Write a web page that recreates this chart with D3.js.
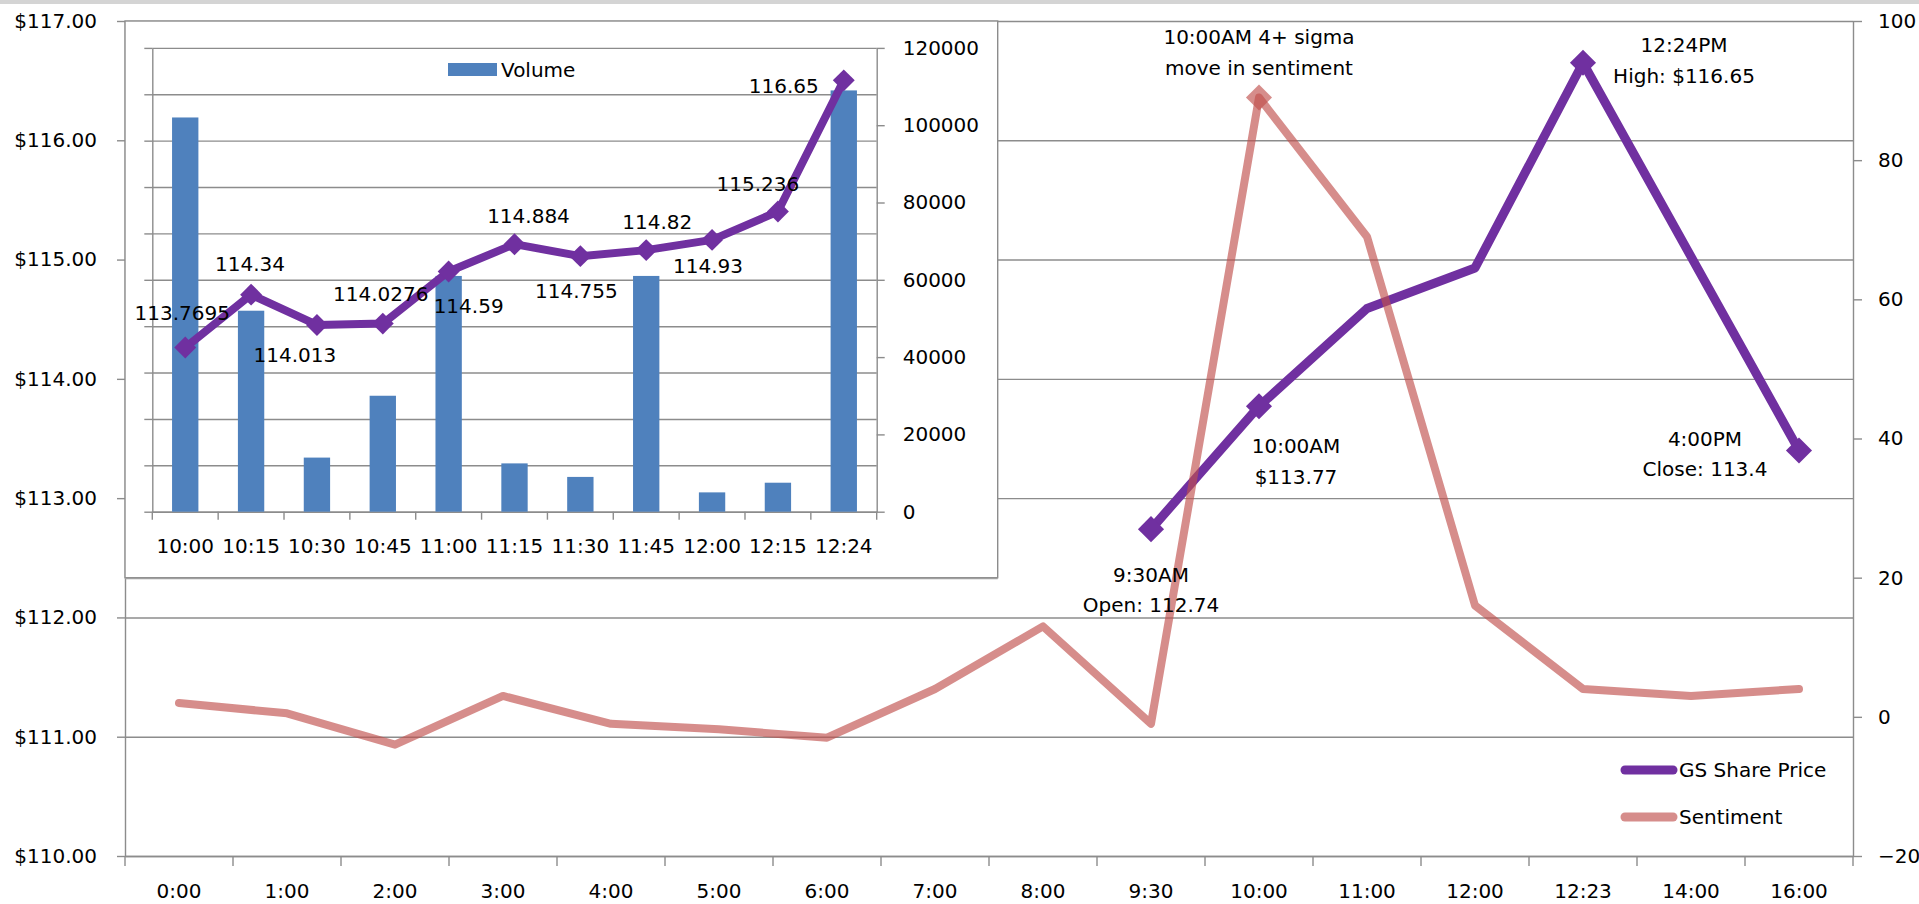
<!DOCTYPE html>
<html><head><meta charset="utf-8">
<script src="https://cdn.jsdelivr.net/npm/d3@7"></script>
<style>
html,body{margin:0;padding:0;background:#fff;overflow:hidden}
svg{display:block}
</style></head><body>
<svg id="c" width="1919" height="904"></svg>
<script>
// ---------------- data: main (daily) chart ----------------
const hours = ["0:00","1:00","2:00","3:00","4:00","5:00","6:00","7:00","8:00","9:30","10:00","11:00","12:00","12:23","14:00","16:00"];
const sharePrice = [null,null,null,null,null,null,null,null,null,112.74,113.77,114.59,114.93,116.65,null,113.4];
const sentiment = [2,0.5,-4,3,-1,-1.8,-3,4,13,-1,89,69,16,4,3,4];
const priceTicks = [110,111,112,113,114,115,116,117];
const sentimentTicks = [-20,0,20,40,60,80,100];
const seriesNames = ["GS Share Price","Sentiment"];
// annotated points: series, category, text lines
const annotSeries = ["price","sentiment","price","price","price"];
const annotCategory = ["9:30","10:00","10:00","12:23","16:00"];
const annotText = [
  ["9:30AM","Open: 112.74"],
  ["10:00AM 4+ sigma","move in sentiment"],
  ["10:00AM","$113.77"],
  ["12:24PM","High: $116.65"],
  ["4:00PM","Close: 113.4"]
];

// ---------------- data: inset (intraday) chart ----------------
const intradayTimes = ["10:00","10:15","10:30","10:45","11:00","11:15","11:30","11:45","12:00","12:15","12:24"];
const intradayPrice = [113.7695,114.34,114.013,114.0276,114.59,114.884,114.755,114.82,114.93,115.236,116.65];
const volume = [102000,52000,14000,30000,61000,12500,9000,61000,5000,7500,109000];
const volumeTicks = [0,20000,40000,60000,80000,100000,120000];
const insetPriceTicks = [112,112.5,113,113.5,114,114.5,115,115.5,116,116.5,117];
const volumeName = "Volume";

// ---------------- layout & style ----------------
const W = 1919, H = 904;
const FONT = "DejaVu Sans, Verdana, sans-serif";
const FS = 20;
const GRID = "#8c8c8c";
const PURPLE = "#7030A0", PINK = "#C0504D", BLUE = "#4F81BD";
const PINK_OP = 0.65;
const M = {left:125, right:1853, top:21, bottom:856};
const I = {boxRight:997.7, boxBottom:577.7, left:152.3, right:876.7, top:47.9, bottom:511.7};
// label offsets (pixels, relative to the point)
const annotOffset = [[0,45.5],[0,-60.5],[37,40],[101,-17.7],[-94,-11.7]];
const insetLabelOffset = [[-3,-35],[-1,-31],[-22,30],[-2,-30],[20,34],[14,-28],[-4,35],[11,-28],[-4,26],[-20,-28],[-60,5]];

const svg = d3.select("#c").attr("font-family", FONT);
svg.append("rect").attr("width", W).attr("height", H).attr("fill", "#fff");
svg.append("rect").attr("width", W).attr("height", 4).attr("fill", "#d4d4d4");

function styleAxis(g, showText = true) {
  g.attr("font-size", FS).attr("font-family", FONT);
  g.select(".domain").attr("stroke", GRID).attr("stroke-width", 1.4);
  g.selectAll(".tick line").attr("stroke", GRID).attr("stroke-width", 1.4);
  g.selectAll(".tick text").attr("fill", "#000");
  if (!showText) g.selectAll(".tick text").remove();
}

// ---------------- main scales ----------------
const x = d3.scaleBand().domain(hours).range([M.left, M.right]);
const xc = h => x(h) + x.bandwidth() / 2;
const yP = d3.scaleLinear().domain([110, 117]).range([M.bottom, M.top]);
const yS = d3.scaleLinear().domain([-20, 100]).range([M.bottom, M.top]);

// gridlines
const grid = svg.append("g").attr("transform", `translate(${M.left},0)`)
  .call(d3.axisLeft(yP).tickValues(priceTicks).tickSize(-(M.right - M.left)).tickFormat(""));
grid.select(".domain").remove();
grid.selectAll(".tick line").attr("stroke", GRID).attr("stroke-width", 1.4);

// left axis
svg.append("g").attr("transform", `translate(${M.left},0)`)
  .call(d3.axisLeft(yP).tickValues(priceTicks).tickFormat(d3.format("$.2f")).tickSizeInner(8).tickSizeOuter(0).tickPadding(20))
  .call(g => styleAxis(g));

// right axis
svg.append("g").attr("transform", `translate(${M.right},0)`)
  .call(d3.axisRight(yS).tickValues(sentimentTicks).tickSizeInner(9).tickSizeOuter(0).tickPadding(16))
  .call(g => styleAxis(g));

// bottom axis (labels centred, ticks at category boundaries)
svg.append("g").attr("transform", `translate(0,${M.bottom})`)
  .call(d3.axisBottom(x).tickSize(0).tickPadding(28))
  .call(g => styleAxis(g));
svg.append("g").selectAll("line").data(hours.map(h => x(h)).concat([M.right])).join("line")
  .attr("x1", d => d).attr("x2", d => d).attr("y1", M.bottom).attr("y2", M.bottom + 10)
  .attr("stroke", GRID).attr("stroke-width", 1.4);

// ---------------- inset ----------------
svg.append("rect").attr("x", M.left).attr("y", M.top)
  .attr("width", I.boxRight - M.left).attr("height", I.boxBottom - M.top)
  .attr("fill", "#fff").attr("stroke", GRID).attr("stroke-width", 1.4);
svg.append("line").attr("x1", M.left).attr("x2", I.boxRight).attr("y1", I.boxBottom + 0.8).attr("y2", I.boxBottom + 0.8)
  .attr("stroke", "#a0a0a0").attr("stroke-width", 1.6);

const xi = d3.scaleBand().domain(intradayTimes).range([I.left, I.right]);
const xic = t => xi(t) + xi.bandwidth() / 2;
const xBar = d3.scaleBand().domain(intradayTimes).range([I.left, I.right]).paddingInner(0.6).paddingOuter(0.3);
const yIP = d3.scaleLinear().domain([112, 117]).range([I.bottom, I.top]);
const yV = d3.scaleLinear().domain([0, 120000]).range([I.bottom, I.top]);

const igrid = svg.append("g").attr("transform", `translate(${I.left},0)`)
  .call(d3.axisLeft(yIP).tickValues(insetPriceTicks).tickSize(-(I.right - I.left)).tickFormat(""));
igrid.select(".domain").remove();
igrid.selectAll(".tick line").attr("stroke", GRID).attr("stroke-width", 1.4);

svg.append("g").attr("transform", `translate(${I.left},0)`)
  .call(d3.axisLeft(yIP).tickValues(insetPriceTicks).tickSizeInner(8).tickSizeOuter(0))
  .call(g => styleAxis(g, false));
svg.append("g").attr("transform", `translate(${I.right},0)`)
  .call(d3.axisRight(yV).tickValues(volumeTicks).tickFormat(d3.format("d")).tickSizeInner(8).tickSizeOuter(0).tickPadding(18))
  .call(g => styleAxis(g));
svg.append("g").attr("transform", `translate(0,${I.bottom})`)
  .call(d3.axisBottom(xi).tickSize(0).tickPadding(27.4))
  .call(g => styleAxis(g));
svg.append("g").selectAll("line").data(intradayTimes.map(t => xi(t)).concat([I.right])).join("line")
  .attr("x1", d => d).attr("x2", d => d).attr("y1", I.bottom).attr("y2", I.bottom + 8)
  .attr("stroke", GRID).attr("stroke-width", 1.4);

// bars
svg.append("g").selectAll("rect").data(volume).join("rect")
  .attr("x", (d, i) => xBar(intradayTimes[i])).attr("width", xBar.bandwidth())
  .attr("y", d => yV(d)).attr("height", d => yV(0) - yV(d)).attr("fill", BLUE);

// inset price line
const diamond = a => d3.symbol(d3.symbolSquare, a)();
svg.append("path").datum(intradayPrice)
  .attr("d", d3.line().x((d, i) => xic(intradayTimes[i])).y(d => yIP(d)))
  .attr("fill", "none").attr("stroke", PURPLE).attr("stroke-width", 8).attr("stroke-linejoin", "round");
svg.append("g").selectAll("path").data(intradayPrice).join("path")
  .attr("d", diamond(240))
  .attr("transform", (d, i) => `translate(${xic(intradayTimes[i])},${yIP(d)}) rotate(45)`)
  .attr("fill", PURPLE);
svg.append("g").selectAll("text").data(intradayPrice).join("text")
  .attr("x", (d, i) => xic(intradayTimes[i]) + insetLabelOffset[i][0])
  .attr("y", (d, i) => yIP(d) + insetLabelOffset[i][1])
  .attr("dy", "0.36em").attr("text-anchor", "middle").attr("font-size", FS).attr("fill", "#000")
  .text(d => String(d));

// inset legend
svg.append("rect").attr("x", 448).attr("y", 63).attr("width", 49).attr("height", 13).attr("fill", BLUE);
svg.append("text").attr("x", 501).attr("y", 70).attr("dy", "0.36em").attr("font-size", FS).attr("fill", "#000").text(volumeName);

// ---------------- main series ----------------
const priceData = hours.map((h, i) => ({h, v: sharePrice[i]})).filter(d => d.v != null);
svg.append("path").datum(priceData)
  .attr("d", d3.line().x(d => xc(d.h)).y(d => yP(d.v)))
  .attr("fill", "none").attr("stroke", PURPLE).attr("stroke-width", 9)
  .attr("stroke-linejoin", "round").attr("stroke-linecap", "round");

const annPoint = (k) => {
  const i = hours.indexOf(annotCategory[k]);
  return annotSeries[k] === "price" ? [xc(hours[i]), yP(sharePrice[i])] : [xc(hours[i]), yS(sentiment[i])];
};
svg.append("g").selectAll("path").data(d3.range(annotText.length).filter(k => annotSeries[k] === "price")).join("path")
  .attr("d", diamond(340))
  .attr("transform", k => { const p = annPoint(k); return `translate(${p[0]},${p[1]}) rotate(45)`; })
  .attr("fill", PURPLE);

svg.append("path").datum(sentiment)
  .attr("d", d3.line().x((d, i) => xc(hours[i])).y(d => yS(d)))
  .attr("fill", "none").attr("stroke", PINK).attr("stroke-opacity", PINK_OP).attr("stroke-width", 8)
  .attr("stroke-linejoin", "round").attr("stroke-linecap", "round");
svg.append("g").selectAll("path").data(d3.range(annotText.length).filter(k => annotSeries[k] === "sentiment")).join("path")
  .attr("d", diamond(340))
  .attr("transform", k => { const p = annPoint(k); return `translate(${p[0]},${p[1]}) rotate(45)`; })
  .attr("fill", PINK).attr("fill-opacity", PINK_OP);

// annotations
const ann = svg.append("g").attr("font-size", FS).attr("fill", "#000").attr("text-anchor", "middle");
annotText.forEach((lines, k) => {
  const p = annPoint(k);
  lines.forEach((t, j) => {
    ann.append("text").attr("x", p[0] + annotOffset[k][0]).attr("y", p[1] + annotOffset[k][1] + j * 30.5)
      .attr("dy", "0.36em").text(t);
  });
});

// main legend
const legColors = [PURPLE, PINK], legOp = [1, PINK_OP], legY = [770, 817];
const leg = svg.append("g");
seriesNames.forEach((n, i) => {
  leg.append("line").attr("x1", 1625).attr("x2", 1673).attr("y1", legY[i]).attr("y2", legY[i])
    .attr("stroke", legColors[i]).attr("stroke-opacity", legOp[i]).attr("stroke-width", 9).attr("stroke-linecap", "round");
  leg.append("text").attr("x", 1679).attr("y", legY[i]).attr("dy", "0.36em").attr("font-size", FS).attr("fill", "#000").text(n);
});
</script>
</body></html>
